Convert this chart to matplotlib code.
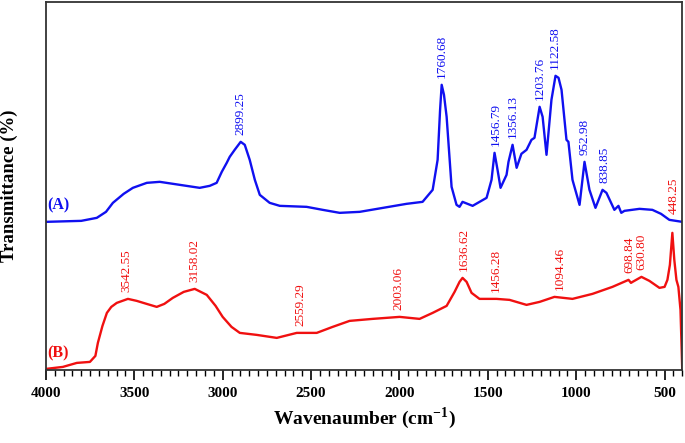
import matplotlib
matplotlib.use("Agg")
import matplotlib.pyplot as plt
import numpy as np
from matplotlib.ticker import MultipleLocator

plt.rcParams['font.family'] = ['Liberation Serif', 'DejaVu Serif']
plt.rcParams['mathtext.fontset'] = 'custom'
plt.rcParams['mathtext.rm'] = 'Liberation Serif'
plt.rcParams['mathtext.bf'] = 'Liberation Serif:bold'

# spectrum (A) (wavenumber, transmittance in arbitrary units)
wn_a = [4000, 3800, 3712, 3660, 3621, 3560, 3508, 3429, 3356, 3243, 3130, 3073, 3034,
        3005, 2977, 2960, 2932, 2898, 2875, 2847, 2818, 2790, 2734, 2677, 2525, 2434,
        2338, 2225, 1960, 1869, 1812, 1784, 1770, 1761, 1748, 1733, 1705, 1677, 1660,
        1643, 1586, 1507, 1479, 1462, 1445, 1428, 1394, 1383, 1360, 1337, 1310, 1281,
        1253, 1236, 1207, 1190, 1168, 1140, 1117, 1100, 1083, 1055, 1044, 1021, 981,
        953, 925, 891, 851, 829, 784, 761, 745, 727, 642, 569, 520, 473, 400]
t_a = [148, 149, 152, 158, 167, 176, 182, 187, 188, 185, 182, 184, 187,
       198, 207, 213, 220, 228, 225, 210, 190, 175, 167, 164, 163, 160,
       157, 158, 166, 168, 180, 210, 260, 285, 275, 253, 183, 165, 163,
       168, 164, 172, 190, 217, 200, 182, 195, 208, 225, 202, 216, 220,
       230, 232, 263, 253, 215, 270, 294, 292, 280, 230, 228, 190, 165,
       208, 180, 162, 180, 177, 160, 164, 157, 159, 161, 160, 156, 150, 148]

# spectrum (B)
wn_b = [4000, 3904, 3825, 3751, 3720, 3706, 3680, 3655, 3630, 3599, 3536, 3486, 3430,
        3373, 3330, 3282, 3220, 3158, 3090, 3040, 3000, 2950, 2903, 2807, 2694, 2581,
        2468, 2378, 2282, 2152, 1999, 1886, 1812, 1733, 1688, 1660, 1643, 1620, 1592,
        1547, 1451, 1377, 1281, 1207, 1123, 1021, 908, 795, 704, 690, 681, 631, 586,
        529, 500, 484, 470, 456, 445, 433, 422, 410, 400]
t_b = [1, 3, 7, 8, 14, 27, 44, 57, 63, 67, 71, 69, 66,
       63, 66, 72, 78, 81, 75, 64, 53, 43, 37, 35, 32, 37,
       37, 43, 49, 51, 53, 51, 57, 64, 78, 88, 92, 88, 77,
       71, 71, 70, 65, 68, 73, 71, 76, 83, 90, 87, 88, 93, 89,
       82, 83, 90, 105, 137, 110, 90, 83, 60, 0]

# annotated peaks
peaks_a = [2899.25, 1760.68, 1456.79, 1356.13, 1203.76, 1122.58, 952.98, 838.85]
peaks_b = [3542.55, 3158.02, 2559.29, 2003.06, 1636.62, 1456.28, 1094.46, 698.84, 630.80]
peak_448 = 448.25

blue = '#1010f0'
red = '#f01010'

fig, ax = plt.subplots(figsize=(6.85, 4.43), dpi=100)
fig.subplots_adjust(left=0.067, right=0.996, bottom=0.165, top=0.996)

ax.plot(wn_a, t_a, color=blue, linewidth=1.7)
ax.plot(wn_b, t_b, color=red, linewidth=1.7)


def label_height(peak, wn, t):
    wn = np.asarray(wn, dtype=float)
    t = np.asarray(t, dtype=float)
    near = np.abs(wn - peak) <= 20
    h = t[near].max() if near.any() else np.interp(peak, wn[::-1], t[::-1])
    return h + 7


for p in peaks_a:
    ax.text(p, label_height(p, wn_a, t_a), f'{p:.2f}', rotation=90, ha='center',
            va='bottom', color=blue, fontsize=9.5)
for p in peaks_b:
    ax.text(p, label_height(p, wn_b, t_b), f'{p:.2f}', rotation=90, ha='center',
            va='bottom', color=red, fontsize=9.5)
ax.text(peak_448, label_height(peak_448, wn_a, t_a), f'{peak_448:.2f}', rotation=90,
        ha='center', va='bottom', color=red, fontsize=9.5)

ax.text(3990, 164, '(A)', color=blue, fontsize=11.5, fontweight='bold', va='center')
ax.text(3990, 17, '(B)', color=red, fontsize=11.5, fontweight='bold', va='center')

ax.set_xlim(4000, 400)
ax.set_ylim(0, 368)
ax.xaxis.set_major_locator(MultipleLocator(500))
ax.xaxis.set_minor_locator(MultipleLocator(50))
ax.tick_params(axis='x', which='major', direction='out', length=7, width=1.2,
               labelsize=11, pad=5)
ax.tick_params(axis='x', which='minor', direction='out', length=4, width=1.0)
for lab in ax.get_xticklabels():
    lab.set_fontweight('bold')
ax.set_yticks([])

for s in ax.spines.values():
    s.set_linewidth(1.3)
    s.set_color('#333333')

ax.set_xlabel(r'Wavenaumber (cm$^{\mathbf{-1}}$)', fontsize=14, fontweight='bold', labelpad=4)
ax.set_ylabel('Transmittance (%)', fontsize=13.5, fontweight='bold', labelpad=20)

fig.savefig('out.png', dpi=100)
